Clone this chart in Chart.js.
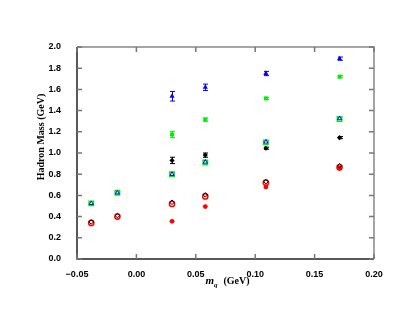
<!DOCTYPE html>
<html>
<head>
<meta charset="utf-8">
<script src="https://cdn.jsdelivr.net/npm/chart.js@4.4.1/dist/chart.umd.min.js"></script>
<style>
  html, body { margin: 0; padding: 0; background: #fff; }
  #wrap { width: 415px; height: 321px; }
</style>
</head>
<body>
<div id="wrap"><canvas id="chart"></canvas></div>
<script>
// quark masses (GeV)
const mq = [-0.038, -0.016, 0.030, 0.058, 0.109, 0.171];
const mqHeavy = [0.030, 0.058, 0.109, 0.171];

// open symbols (all six masses)
const circleOpen = [0.34, 0.40, 0.52, 0.59, 0.72, 0.865];
const diamondOpen = [0.35, 0.41, 0.535, 0.605, 0.73, 0.88];
const squareOpen = [0.525, 0.625, 0.80, 0.91, 1.10, 1.32];
const triangleOpen = [0.525, 0.625, 0.80, 0.915, 1.105, 1.325];

// filled symbols (heavier masses only)
const circleFilled = [0.355, 0.495, 0.68, 0.855];
const diamondFilled = [0.93, 0.98, 1.045, 1.145];
const diamondFilledErr = [0.03, 0.02, 0.01, 0.01];
const squareFilled = [1.175, 1.315, 1.515, 1.72];
const squareFilledErr = [0.03, 0.015, 0.01, 0.01];
const triangleFilled = [1.535, 1.62, 1.75, 1.89];
const triangleFilledErr = [0.045, 0.03, 0.02, 0.015];

const xTicks = [-0.05, 0, 0.05, 0.10, 0.15, 0.20];

const RED = '#ff0000', GREEN = '#00ee00', BLUE = '#0000ff', BLACK = '#000000';

function pts(xs, ys) {
    return xs.map((x, i) => ({ x: x, y: ys[i] }));
}

function ds(label, xs, ys, style, extra) {
    return Object.assign({
        label: label,
        data: pts(xs, ys),
        pointStyle: style,
        showLine: false
    }, extra);
}

const datasets = [
    ds('diamond open', mq, diamondOpen, 'rectRot', { pointRadius: 2.3, borderColor: BLACK, backgroundColor: 'rgba(0,0,0,0)', borderWidth: 1 }),
    ds('circle open', mq, circleOpen, 'circle', { pointRadius: 2.6, borderColor: RED, backgroundColor: 'rgba(0,0,0,0)', borderWidth: 1.5 }),
    ds('circle filled', mqHeavy, circleFilled, 'circle', { pointRadius: 2.4, borderColor: RED, backgroundColor: RED, borderWidth: 0 }),
    ds('triangle open', mq, triangleOpen, 'triangle', { pointRadius: 2.4, borderColor: BLUE, backgroundColor: 'rgba(0,0,0,0)', borderWidth: 1 }),
    ds('square open', mq, squareOpen, 'rect', { pointRadius: 3.2, borderColor: GREEN, backgroundColor: 'rgba(0,0,0,0)', borderWidth: 1.4 }),
    ds('diamond filled', mqHeavy, diamondFilled, 'rectRot', { pointRadius: 2.6, borderColor: BLACK, backgroundColor: BLACK, borderWidth: 0, err: diamondFilledErr }),
    ds('square filled', mqHeavy, squareFilled, 'rect', { pointRadius: 2.8, borderColor: GREEN, backgroundColor: GREEN, borderWidth: 0, err: squareFilledErr }),
    ds('triangle filled', mqHeavy, triangleFilled, 'triangle', { pointRadius: 3, borderColor: BLUE, backgroundColor: BLUE, borderWidth: 0, err: triangleFilledErr })
];

// error bars, inward ticks on all four sides, axis titles
const decorations = {
    id: 'decorations',
    afterDatasetsDraw(chart) {
        const ctx = chart.ctx;
        const xs = chart.scales.x, ys = chart.scales.y;
        ctx.save();
        chart.data.datasets.forEach(d => {
            if (!d.err) return;
            ctx.strokeStyle = d.borderColor;
            ctx.lineWidth = 1;
            d.data.forEach((p, i) => {
                const px = Math.round(xs.getPixelForValue(p.x)) + 0.5;
                const y1 = ys.getPixelForValue(p.y - d.err[i]);
                const y2 = ys.getPixelForValue(p.y + d.err[i]);
                ctx.beginPath();
                ctx.moveTo(px, y1); ctx.lineTo(px, y2);
                ctx.moveTo(px - 2.5, y1); ctx.lineTo(px + 2.5, y1);
                ctx.moveTo(px - 2.5, y2); ctx.lineTo(px + 2.5, y2);
                ctx.stroke();
            });
        });
        ctx.restore();
    },
    afterDraw(chart) {
        const ctx = chart.ctx;
        const a = chart.chartArea;
        const xs = chart.scales.x, ys = chart.scales.y;
        const len = 5;
        ctx.save();
        // frame
        ctx.lineWidth = 1.5;
        ctx.strokeStyle = '#888';
        ctx.beginPath();
        ctx.moveTo(a.left, a.top); ctx.lineTo(a.right, a.top); ctx.lineTo(a.right, a.bottom);
        ctx.stroke();
        ctx.strokeStyle = '#222';
        ctx.beginPath();
        ctx.moveTo(a.left, a.top); ctx.lineTo(a.left, a.bottom); ctx.lineTo(a.right, a.bottom);
        ctx.stroke();
        // ticks
        ctx.strokeStyle = '#777';
        ctx.lineWidth = 1.5;
        ctx.beginPath();
        xTicks.forEach(v => {
            const px = xs.getPixelForValue(v);
            ctx.moveTo(px, a.bottom); ctx.lineTo(px, a.bottom - len);
            ctx.moveTo(px, a.top); ctx.lineTo(px, a.top + len);
        });
        for (let v = 0; v <= 2.0001; v += 0.2) {
            const py = ys.getPixelForValue(v);
            ctx.moveTo(a.left, py); ctx.lineTo(a.left + len, py);
            ctx.moveTo(a.right, py); ctx.lineTo(a.right - len, py);
        }
        ctx.stroke();

        // y title
        ctx.fillStyle = '#000';
        ctx.font = 'bold 10px "Liberation Serif"';
        ctx.textAlign = 'center';
        ctx.textBaseline = 'middle';
        ctx.translate(41, 137);
        ctx.rotate(-Math.PI / 2);
        ctx.fillText('Hadron Mass (GeV)', 0, 0);
        ctx.restore();

        // x title: m_q (GeV)
        ctx.save();
        ctx.fillStyle = '#000';
        ctx.textBaseline = 'alphabetic';
        ctx.textAlign = 'left';
        const cx = (a.left + a.right) / 2 + 2;
        const base = 284;
        ctx.font = 'italic bold 11px "Liberation Serif"';
        const wm = ctx.measureText('m').width;
        ctx.font = 'italic bold 7px "Liberation Serif"';
        const wq = ctx.measureText('q').width;
        ctx.font = 'bold 10px "Liberation Serif"';
        const wg = ctx.measureText('  (GeV)').width;
        let x0 = cx - (wm + wq + 1 + wg) / 2;
        ctx.font = 'italic bold 11px "Liberation Serif"';
        ctx.fillText('m', x0, base);
        ctx.font = 'italic bold 7px "Liberation Serif"';
        ctx.fillText('q', x0 + wm, base + 3);
        ctx.font = 'bold 10px "Liberation Serif"';
        ctx.fillText('  (GeV)', x0 + wm + wq + 1, base);
        ctx.restore();
    }
};

new Chart(document.getElementById('chart'), {
    type: 'scatter',
    data: { datasets: datasets },
    plugins: [decorations],
    options: {
        responsive: true,
        maintainAspectRatio: false,
        animation: false,
        layout: { padding: { left: 0, top: 47, right: 41, bottom: 32 } },
        plugins: { legend: { display: false }, tooltip: { enabled: false } },
        scales: {
            x: {
                type: 'linear',
                min: -0.05, max: 0.20,
                border: { display: false },
                grid: { display: false },
                afterFit: s => { s.height = 30; },
                afterBuildTicks: s => { s.ticks = xTicks.map(v => ({ value: v })); },
                ticks: {
                    color: '#000',
                    padding: 2,
                    maxRotation: 0,
                    font: { family: 'Liberation Sans', size: 9, weight: 'bold' },
                    callback: v => (v < 0 ? '\u2212' : '') + Math.abs(v).toFixed(2)
                }
            },
            y: {
                type: 'linear',
                min: 0, max: 2.0,
                border: { display: false },
                grid: { display: false },
                afterFit: s => { s.width = 77; },
                ticks: {
                    color: '#000',
                    stepSize: 0.2,
                    padding: 8,
                    font: { family: 'Liberation Sans', size: 9, weight: 'bold' },
                    callback: v => v.toFixed(1)
                }
            }
        }
    }
});
</script>
</body>
</html>
